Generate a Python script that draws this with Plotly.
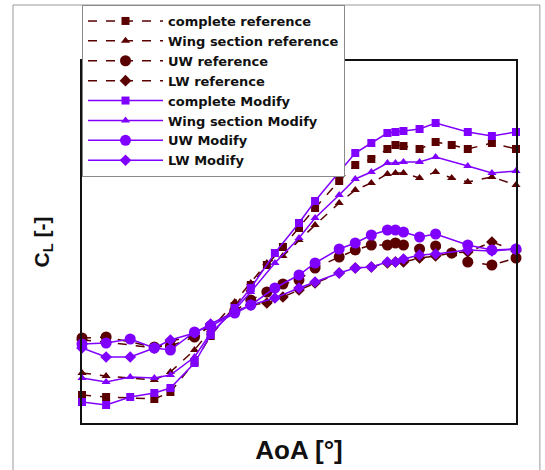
import plotly.graph_objects as go

# AoA [deg] positions
aoa_ref = [-24, -21, -15, -13, -10, -8, -5, -3, -1, 1, 3, 5, 8, 10, 12, 14, 15, 16, 18, 20, 22, 24, 27, 30]
aoa_mod = [-24, -21, -18, -15, -13, -10, -8, -5, -3, 0, 3, 5, 8, 10, 12, 14, 15, 16, 18, 20, 24, 27, 30]

# Reference series (C_L)
complete_ref = [-0.46, -0.47, -0.48, -0.445, -0.295, -0.165, -0.015, 0.09, 0.19, 0.28, 0.375, 0.475,
                0.61, 0.69, 0.72, 0.77, 0.79, 0.785, 0.77, 0.805, 0.79, 0.77, 0.80, 0.77]
wing_ref = [-0.35, -0.365, -0.385, -0.345, -0.235, -0.135, 0.005, 0.10, 0.20, 0.235, 0.315, 0.39,
            0.50, 0.565, 0.60, 0.645, 0.65, 0.65, 0.625, 0.655, 0.625, 0.605, 0.63, 0.59]
uw_ref = [-0.175, -0.17, -0.22, -0.215, -0.17, -0.115, -0.04, 0.015, 0.055, 0.095, 0.115, 0.175,
          0.23, 0.265, 0.29, 0.29, 0.30, 0.29, 0.27, 0.285, 0.25, 0.205, 0.19, 0.225]
lw_ref = [-0.185, -0.195, -0.225, -0.19, -0.165, -0.11, -0.045, -0.01, 0.0, 0.03, 0.065, 0.10,
          0.15, 0.175, 0.18, 0.20, 0.205, 0.205, 0.225, 0.235, 0.25, 0.255, 0.305, 0.26]

# Modified series (C_L)
complete_mod = [-0.495, -0.51, -0.47, -0.45, -0.425, -0.30, -0.16, -0.025, 0.075, 0.25, 0.40, 0.51,
                0.655, 0.75, 0.80, 0.85, 0.855, 0.86, 0.87, 0.90, 0.855, 0.835, 0.855]
wing_mod = [-0.375, -0.395, -0.37, -0.375, -0.36, -0.27, -0.15, -0.035, 0.055, 0.20, 0.325, 0.425,
            0.54, 0.62, 0.655, 0.70, 0.70, 0.705, 0.705, 0.73, 0.685, 0.65, 0.66]
uw_mod = [-0.205, -0.20, -0.18, -0.225, -0.235, -0.145, -0.115, -0.05, -0.01, 0.075, 0.14, 0.20,
          0.27, 0.30, 0.34, 0.365, 0.365, 0.355, 0.33, 0.345, 0.29, 0.265, 0.27]
lw_mod = [-0.225, -0.27, -0.27, -0.225, -0.185, -0.15, -0.105, -0.045, -0.01, 0.025, 0.075, 0.105,
          0.15, 0.175, 0.18, 0.205, 0.205, 0.22, 0.24, 0.245, 0.265, 0.26, 0.27]

REF = "#5a0000"
MOD = "#8000ff"

fig = go.Figure()

ref_specs = [
    ("complete reference", complete_ref, "square", 8),
    ("Wing section reference", wing_ref, "triangle-up", 8),
    ("UW reference", uw_ref, "circle", 11),
    ("LW reference", lw_ref, "diamond", 9),
]
mod_specs = [
    ("complete Modify", complete_mod, "square", 8),
    ("Wing section Modify", wing_mod, "triangle-up", 8),
    ("UW Modify", uw_mod, "circle", 11),
    ("LW Modify", lw_mod, "diamond", 9),
]

for name, ys, sym, sz in ref_specs:
    fig.add_trace(go.Scatter(
        x=aoa_ref, y=ys, name=name, mode="lines+markers", cliponaxis=False,
        line=dict(color=REF, width=1.5, dash="dash"),
        marker=dict(symbol=sym, size=sz, color=REF),
    ))
for name, ys, sym, sz in mod_specs:
    fig.add_trace(go.Scatter(
        x=aoa_mod, y=ys, name=name, mode="lines+markers", cliponaxis=False,
        line=dict(color=MOD, width=1.5),
        marker=dict(symbol=sym, size=sz, color=MOD),
    ))

axis_common = dict(showline=True, mirror=True, linecolor="#111111", linewidth=2,
                   showgrid=False, zeroline=False, showticklabels=False, ticks="")

fig.update_layout(
    width=545, height=470,
    margin=dict(l=82, r=29, t=61, b=47, autoexpand=False),
    paper_bgcolor="white", plot_bgcolor="white",
    font=dict(family="Liberation Sans, Arial, sans-serif", color="#111111"),
    xaxis=dict(range=[-24, 30],
               title=dict(text="AoA [°]", font=dict(size=26, weight="bold"), standoff=17),
               **axis_common),
    yaxis=dict(range=[-0.6, 1.21],
               title=dict(text="C<sub>L</sub> [-]", font=dict(size=21, weight="bold"), standoff=25),
               **axis_common),
    showlegend=True,
    legend=dict(x=0, y=1.1547, xanchor="left", yanchor="top",
                bgcolor="white", bordercolor="#8a8a8a", borderwidth=1,
                font=dict(family="DejaVu Sans", size=13, weight="bold", color="#111111"),
                itemwidth=75, tracegroupgap=0),
    shapes=[dict(type="rect", xref="paper", yref="paper",
                 x0=-0.159, x1=1.055, y0=-0.16, y1=1.1547,
                 line=dict(color="#9a9a9a", width=1), layer="below")],
)

fig.write_html("out.html")
